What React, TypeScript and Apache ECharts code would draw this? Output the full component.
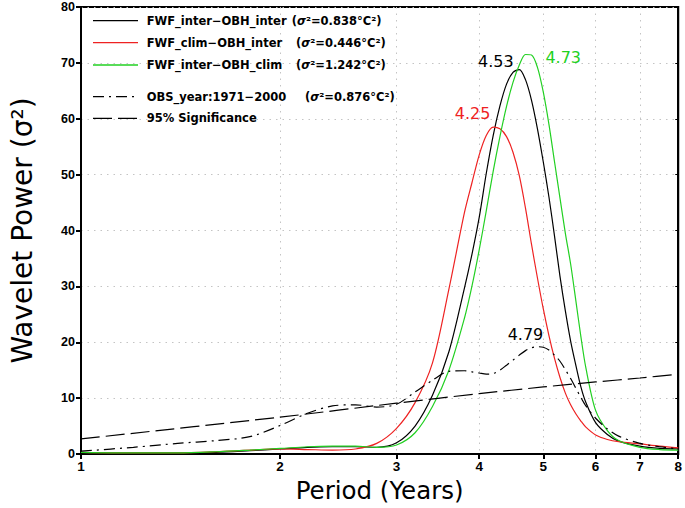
import React, { useEffect, useRef } from 'react';
import * as echarts from 'echarts';

// Period axis (years) sample points shared by the spectra
const periods = [1, 1.2, 1.4, 1.6, 1.8, 2, 2.2, 2.4, 2.6, 2.8, 3, 3.2, 3.4, 3.6, 3.8, 3.9, 4, 4.1, 4.2, 4.3, 4.4, 4.5, 4.6, 4.7, 4.8, 4.9, 5, 5.1, 5.2, 5.3, 5.4, 5.5, 5.6, 5.7, 5.8, 6, 6.25, 6.5, 7, 7.5, 8];

const interInter = [0.3, 0.2, 0.2, 0.3, 0.6, 0.9, 1.2, 1.3, 1.3, 1.2, 2.0, 5.0, 10.5, 18.3, 29.7, 35.7, 42.3, 50.2, 57, 62.3, 66.2, 68.3, 68.8, 67.0, 63.3, 58.2, 52.3, 46, 39, 31.8, 25.6, 20.2, 15.9, 12.0, 9.2, 5.6, 3.5, 2.3, 1.4, 1.0, 0.9];
const climInter = [0.3, 0.2, 0.2, 0.4, 0.7, 0.9, 0.8, 0.7, 0.9, 1.9, 4.6, 9.2, 16.3, 29.5, 43.2, 48.5, 53.5, 57, 58.5, 58.2, 56.8, 54, 49.8, 44, 37.5, 31.5, 26, 21.2, 17.1, 13.7, 10.9, 8.8, 7.2, 5.9, 4.8, 3.4, 2.6, 2.2, 1.8, 1.4, 1.1];
const interClim = [0.3, 0.2, 0.2, 0.4, 0.7, 1.0, 1.3, 1.4, 1.4, 1.2, 1.6, 3.8, 8.5, 15, 24.3, 30, 36.5, 43.5, 50.6, 56.8, 62.2, 66.5, 69.6, 71.5, 71.4, 69.2, 64.8, 59, 52.3, 45.8, 39.5, 34, 27.5, 21, 15.4, 7.8, 4.2, 2.4, 1.2, 0.8, 0.7];
const obsYear = [0.5, 1.2, 1.9, 2.4, 3.1, 5.1, 7.3, 8.6, 8.8, 8.4, 8.9, 11.1, 13.2, 14.8, 14.9, 14.7, 14.5, 14.3, 14.4, 15.0, 15.9, 16.8, 17.7, 18.5, 19.0, 19.2, 19.1, 18.6, 17.7, 16.6, 15.1, 13.5, 11.8, 10.1, 8.6, 6.4, 4.5, 3.2, 1.9, 1.3, 0.9];

const sigPeriods = [1, 2, 3, 4, 5, 6, 7, 8];
const sigValues = [2.7, 6.6, 9.1, 10.8, 12.0, 12.9, 13.6, 14.3];

const xTicks = [1, 2, 3, 4, 5, 6, 7, 8];

const legendNames = ['FWF_inter\u2212OBH_inter', 'FWF_clim\u2212OBH_inter', 'FWF_inter\u2212OBH_clim', 'OBS_year:1971\u22122000', '95% Significance'];
const legendVariance = ['0.838', '0.446', '1.242', '0.876', ''];

// peak annotations: [period, power, text]
const peakLabels: [number, number, string][] = [
  [4.24, 70.2, '4.53'],
  [3.91, 61.0, '4.25'],
  [5.36, 70.9, '4.73'],
  [4.70, 21.3, '4.79'],
];

const BLACK = '#000000';
const RED = '#ee2222';
const GREEN = '#22d022';

export default function App() {
  const ref = useRef<HTMLDivElement>(null);
  useEffect(() => {
    if (!ref.current) return;
    const chart = echarts.init(ref.current, null, { renderer: 'svg' });
    const pair = (xs: number[], ys: number[]) => xs.map((x, i) => [x, ys[i]]);
    const gridLine = { show: true, lineStyle: { color: '#c4c4c4', type: [1.5, 5], width: 1 } };
    const tickFont = { fontFamily: 'Liberation Sans', fontWeight: 'bold', fontSize: 12.5, color: '#000' };

    const peakItem = (idx: number, color: string) => ({
      coord: [peakLabels[idx][0], peakLabels[idx][1]],
      label: {
        show: true,
        position: 'inside',
        formatter: peakLabels[idx][2],
        color,
        fontFamily: 'DejaVu Sans',
        fontSize: 16,
      },
    });
    const peakMark = (items: any[]) => ({
      symbol: 'circle',
      symbolSize: 1,
      itemStyle: { color: 'rgba(0,0,0,0)' },
      data: items,
    });

    const lineSeries = (name: string, data: number[], color: string, type: any, marks: any) => ({
      name,
      type: 'line',
      data: pair(periods, data),
      smooth: 0.3,
      symbol: 'none',
      lineStyle: { color, width: 1.2, type },
      markPoint: marks,
      z: 3,
    });

    const legendRowsY = [20.7, 42.7, 65, 96.7, 118.3];
    const varianceX = [291.7, 296, 296, 305];
    const legendStyles: any[] = [
      { stroke: BLACK, lineDash: null },
      { stroke: RED, lineDash: null },
      { stroke: GREEN, lineDash: null },
      { stroke: BLACK, lineDash: [11, 5, 2, 5] },
      { stroke: BLACK, lineDash: [19, 6] },
    ];
    const legendFont = { fontFamily: 'DejaVu Sans', fontWeight: 'bold', fontSize: 11.5 };
    const graphics: any[] = [];
    legendNames.forEach((name, i) => {
      graphics.push({
        type: 'line',
        shape: { x1: 93, y1: legendRowsY[i], x2: 138, y2: legendRowsY[i] },
        style: { stroke: legendStyles[i].stroke, lineWidth: 1.3, lineDash: legendStyles[i].lineDash },
        z: 10,
      });
      graphics.push({
        type: 'text',
        x: 146.7,
        y: legendRowsY[i],
        style: { text: name, fill: '#000', ...legendFont, verticalAlign: 'middle', align: 'left' },
        z: 10,
      });
      if (legendVariance[i]) {
        graphics.push({
          type: 'text',
          x: varianceX[i],
          y: legendRowsY[i],
          style: {
            text: '({s|\u03c3}\u00b2=' + legendVariance[i] + '\u00b0C\u00b2)',
            fill: '#000',
            ...legendFont,
            verticalAlign: 'middle',
            align: 'left',
            rich: { s: { ...legendFont, fontStyle: 'italic', fill: '#000' } },
          },
          z: 10,
        });
      }
    });

    const option: any = {
      animation: false,
      backgroundColor: '#ffffff',
      grid: { left: 78, right: 5, top: 7, bottom: 51, show: true, borderColor: '#000', borderWidth: 2, backgroundColor: 'transparent' },
      xAxis: {
        type: 'log',
        logBase: 10,
        min: 1,
        max: 8,
        name: 'Period (Years)',
        nameLocation: 'middle',
        nameGap: 24,
        nameTextStyle: { fontFamily: 'DejaVu Sans', fontSize: 24.5, color: '#000' },
        axisLine: { show: true, onZero: false, lineStyle: { color: '#000', width: 2 } },
        axisTick: { show: true, inside: false, length: 5, customValues: xTicks, lineStyle: { color: '#000', width: 2 } },
        axisLabel: { customValues: xTicks, margin: 5, formatter: (v: number) => String(Math.round(v)), ...tickFont, fontFamily: 'Liberation Sans Narrow, Liberation Sans', fontSize: 13.5 },
        splitLine: gridLine,
        minorTick: { show: false },
        minorSplitLine: { show: false },
      },
      yAxis: [
        {
          type: 'value',
          min: 0,
          max: 80,
          interval: 10,
          name: 'Wavelet Power (\u03c3\u00b2)',
          nameLocation: 'middle',
          nameGap: 45,
          nameTextStyle: { fontFamily: 'DejaVu Sans', fontSize: 28, color: '#000' },
          axisLine: { show: true, lineStyle: { color: '#000', width: 2 } },
          axisTick: { show: true, inside: false, length: 5, lineStyle: { color: '#000', width: 2 } },
          axisLabel: { margin: 6, ...tickFont },
          splitLine: gridLine,
        },
        {
          type: 'value',
          min: 0,
          max: 80,
          interval: 10,
          position: 'right',
          axisLine: { show: true, lineStyle: { color: '#000', width: 2 } },
          axisTick: { show: true, inside: true, length: 3, lineStyle: { color: '#000', width: 1 } },
          axisLabel: { show: false },
          splitLine: { show: false },
        },
      ],
      series: [
        lineSeries('FWF_inter-OBH_inter', interInter, BLACK, 'solid', peakMark([peakItem(0, BLACK), peakItem(3, BLACK)])),
        lineSeries('FWF_clim-OBH_inter', climInter, RED, 'solid', peakMark([peakItem(1, RED)])),
        lineSeries('FWF_inter-OBH_clim', interClim, GREEN, 'solid', peakMark([peakItem(2, GREEN)])),
        lineSeries('OBS_year:1971-2000', obsYear, BLACK, [11, 5, 2, 5], undefined),
        {
          name: '95% Significance',
          type: 'line',
          data: pair(sigPeriods, sigValues),
          smooth: 0.3,
          symbol: 'none',
          lineStyle: { color: BLACK, width: 1.2, type: [19, 6] },
          z: 3,
        },
      ],
      graphic: graphics,
    };
    chart.setOption(option);
    return () => chart.dispose();
  }, []);
  return <div ref={ref} style={{ width: 685, height: 508, position: 'absolute', left: 0, top: 0 }} />;
}
